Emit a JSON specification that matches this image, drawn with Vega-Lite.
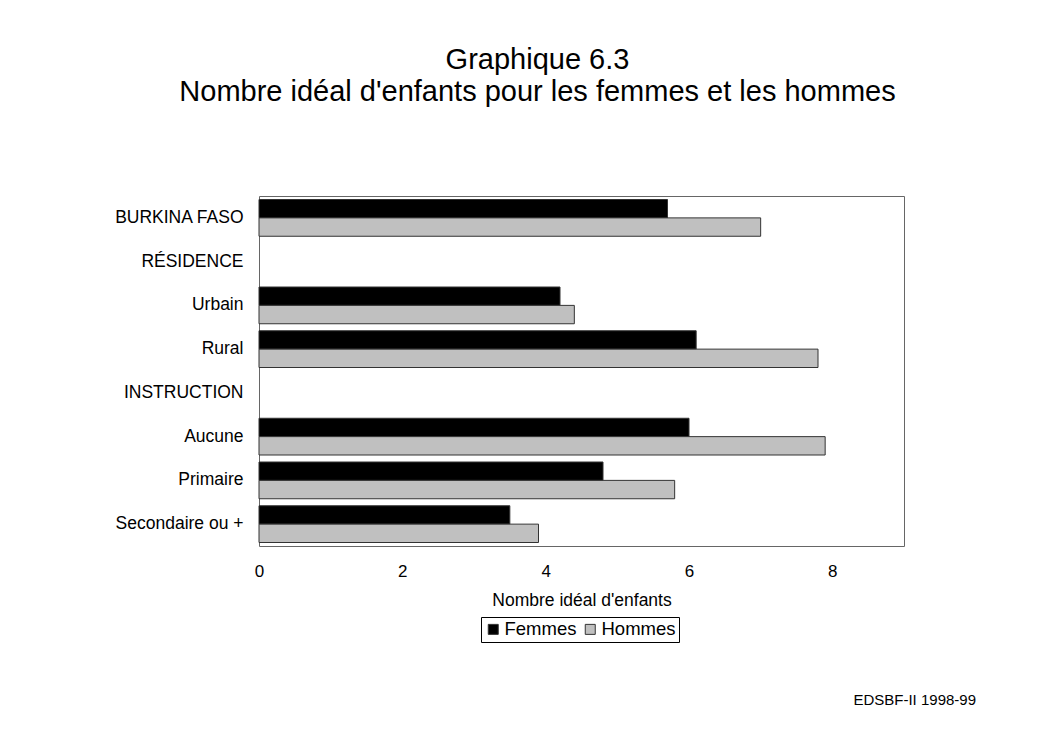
{
  "$schema": "https://vega.github.io/schema/vega-lite/v6.json",
  "autosize": {"type": "none"},
  "width": 645,
  "height": 350,
  "padding": {"left": 259, "top": 196, "right": 142, "bottom": 188},
  "background": "white",
  "title": {
    "text": "EDSBF-II 1998-99",
    "orient": "bottom",
    "anchor": "end",
    "frame": "group",
    "dx": 72,
    "offset": 50,
    "fontSize": 15,
    "fontWeight": "normal",
    "font": "Liberation Sans",
    "color": "black"
  },
  "data": {
    "values": [
      {"categorie": "BURKINA FASO", "sexe": "Femmes", "valeur": 5.7},
      {"categorie": "BURKINA FASO", "sexe": "Hommes", "valeur": 7.0},
      {"categorie": "Urbain", "sexe": "Femmes", "valeur": 4.2},
      {"categorie": "Urbain", "sexe": "Hommes", "valeur": 4.4},
      {"categorie": "Rural", "sexe": "Femmes", "valeur": 6.1},
      {"categorie": "Rural", "sexe": "Hommes", "valeur": 7.8},
      {"categorie": "Aucune", "sexe": "Femmes", "valeur": 6.0},
      {"categorie": "Aucune", "sexe": "Hommes", "valeur": 7.9},
      {"categorie": "Primaire", "sexe": "Femmes", "valeur": 4.8},
      {"categorie": "Primaire", "sexe": "Hommes", "valeur": 5.8},
      {"categorie": "Secondaire ou +", "sexe": "Femmes", "valeur": 3.5},
      {"categorie": "Secondaire ou +", "sexe": "Hommes", "valeur": 3.9}
    ]
  },
  "mark": {"type": "bar", "stroke": "#333333", "strokeWidth": 1},
  "encoding": {
    "y": {
      "field": "categorie",
      "type": "nominal",
      "scale": {
        "domain": ["BURKINA FASO", "RÉSIDENCE", "Urbain", "Rural", "INSTRUCTION", "Aucune", "Primaire", "Secondaire ou +"],
        "paddingInner": 0.16,
        "paddingOuter": 0.08
      },
      "axis": {
        "title": ["Graphique 6.3", "Nombre idéal d'enfants pour les femmes et les hommes"],
        "titleAngle": 0,
        "titleX": 278,
        "titleY": -128,
        "titleAlign": "center",
        "titleBaseline": "alphabetic",
        "titleFontSize": 29,
        "titleLineHeight": 32,
        "titleFontWeight": "normal",
        "labelPadding": 16,
        "labelFontSize": 17.5
      }
    },
    "yOffset": {"field": "sexe", "sort": ["Femmes", "Hommes"]},
    "x": {
      "field": "valeur",
      "type": "quantitative",
      "scale": {"domain": [0, 9], "nice": false},
      "axis": {
        "values": [0, 2, 4, 6, 8],
        "title": "Nombre idéal d'enfants",
        "labelFlush": false,
        "labelPadding": 17,
        "titlePadding": 12,
        "labelFontSize": 17,
        "titleFontSize": 17.5
      }
    },
    "color": {
      "field": "sexe",
      "type": "nominal",
      "scale": {"domain": ["Femmes", "Hommes"], "range": ["#000000", "#c0c0c0"]},
      "legend": {
        "title": null,
        "orient": "none",
        "legendX": 222,
        "legendY": 421,
        "direction": "horizontal",
        "strokeColor": "black",
        "fillColor": "white",
        "padding": 3,
        "labelFontSize": 18.5,
        "labelFont": "Liberation Sans",
        "labelColor": "black",
        "labelOffset": 2,
        "columnPadding": 4,
        "symbolType": "square",
        "symbolSize": 100,
        "symbolStrokeColor": "#333333",
        "symbolStrokeWidth": 1,
        "symbolOpacity": 1
      }
    }
  },
  "config": {
    "font": "Liberation Sans",
    "view": {"stroke": "#666666", "strokeWidth": 1},
    "axis": {
      "grid": false,
      "ticks": false,
      "domain": false,
      "labelFont": "Liberation Sans",
      "labelColor": "black",
      "titleFont": "Liberation Sans",
      "titleFontWeight": "normal",
      "titleColor": "black"
    }
  }
}
